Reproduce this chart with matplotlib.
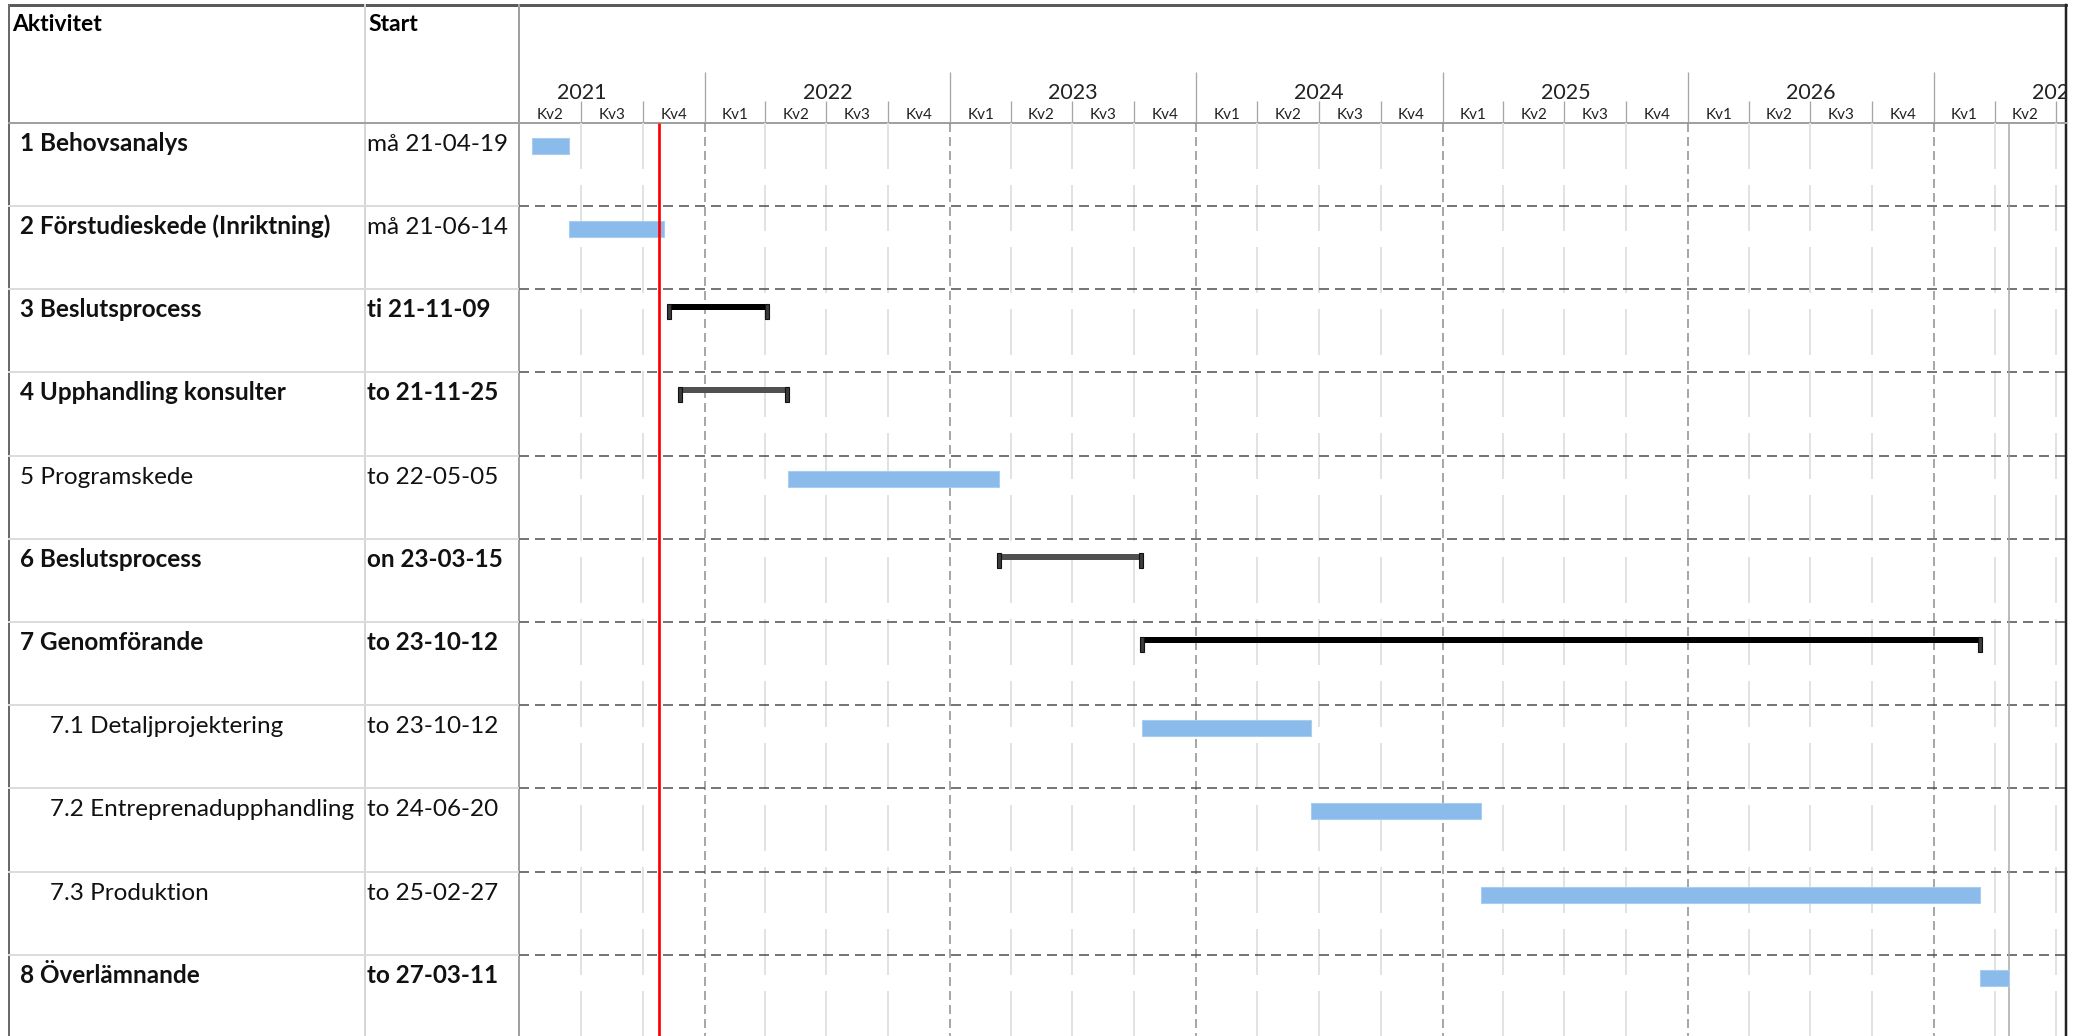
import datetime as dt
import matplotlib
matplotlib.use("Agg")
import matplotlib.pyplot as plt
import matplotlib.dates as mdates

plt.rcParams['font.family'] = ['Lato', 'DejaVu Sans']
plt.rcParams['lines.scale_dashes'] = False

# ---- data ----
names = ["1 Behovsanalys", "2 Förstudieskede (Inriktning)", "3 Beslutsprocess",
         "4 Upphandling konsulter", "5 Programskede", "6 Beslutsprocess",
         "7 Genomförande", "7.1 Detaljprojektering", "7.2 Entreprenadupphandling",
         "7.3 Produktion", "8 Överlämnande"]
start_labels = ["må 21-04-19", "må 21-06-14", "ti 21-11-09", "to 21-11-25", "to 22-05-05",
                "on 23-03-15", "to 23-10-12", "to 23-10-12", "to 24-06-20", "to 25-02-27",
                "to 27-03-11"]
name_bold = [1, 1, 1, 1, 0, 1, 1, 0, 0, 0, 1]
start_bold = [0, 0, 1, 1, 0, 1, 1, 0, 0, 0, 1]
indent = [0, 0, 0, 0, 0, 0, 0, 1, 1, 1, 0]
starts = ["2021-04-19", "2021-06-14", "2021-11-09", "2021-11-25", "2022-05-05", "2023-03-15",
          "2023-10-12", "2023-10-12", "2024-06-20", "2025-02-27", "2027-03-11"]
ends = ["2021-06-13", "2021-11-02", "2022-04-03", "2022-05-04", "2023-03-15", "2023-10-11",
        "2027-03-11", "2024-06-20", "2025-02-27", "2027-03-11", "2027-04-22"]
kinds = ["task", "task", "sum", "sum2", "task", "sum2", "sum", "task", "task", "task", "task"]
status_date = "2021-10-26"
finish_date = "2027-04-22"
view_start = "2021-04-01"
view_end = "2027-07-16"
years = [2021, 2022, 2023, 2024, 2025, 2026, 2027]


def d(s):
    return mdates.date2num(dt.datetime.strptime(s, "%Y-%m-%d"))


W, H = 2087, 1036
fig = plt.figure(figsize=(W / 100, H / 100), dpi=100)

X0, X1 = 519.4, 2066      # chart area in px
HB = 122.8                # header bottom
RH = 83.2                 # row height
px = 0.72                 # px -> pt

# background axes in pixel coords
bg = fig.add_axes([0, 0, 1, 1])
bg.set_xlim(0, W)
bg.set_ylim(H, 0)
bg.axis("off")

# gantt body axes
ax = fig.add_axes([X0 / W, 0, (X1 - X0) / W, (H - HB) / H])
ax.set_xlim(d(view_start), d(view_end))
ax.set_ylim(H, HB)
ax.axis("off")

# header axes (timescale)
axh = fig.add_axes([X0 / W, (H - HB) / H, (X1 - X0) / W, HB / H])
axh.set_xlim(d(view_start), d(view_end))
axh.set_ylim(HB, 0)
axh.axis("off")

# ---- timescale + gridlines ----
for y in years:
    for q in range(4):
        qs = d("%d-%02d-01" % (y, 1 + 3 * q))
        qe = d("%d-%02d-01" % (y + (q == 3), 1 if q == 3 else 4 + 3 * q))
        if qe <= d(view_start) or qs >= d(view_end):
            continue
        axh.text((qs + qe) / 2, 119, "Kv%d" % (q + 1), ha="center", va="baseline",
                 fontsize=11, color="#222222", clip_on=True)
        if qs <= d(view_start):
            continue
        if q == 0:
            ax.vlines(qs, HB, H, color="#8c8c8c", lw=1.5 * px,
                      linestyles=(0, (9 * px, 5 * px)), zorder=1)
        else:
            ax.vlines(qs, HB, H, color="#e2e2e2", lw=2 * px,
                      linestyles=(0, (46 * px, 16 * px)), zorder=1)
        axh.vlines(qs, 72 if q == 0 else 101, HB, color="#a6a6a6", lw=1.3 * px)
    mid = (d("%d-01-01" % y) + d("%d-01-01" % (y + 1))) / 2
    axh.text(mid, 99, str(y), ha="center", va="baseline", fontsize=15.5,
             color="#222222", clip_on=True)

for i in range(1, len(names) + 1):
    yy = HB + i * RH
    ax.hlines(yy, d(view_start), d(view_end), color="#4a4a4a", lw=1.5 * px,
              linestyles=(0, (10 * px, 6 * px)), zorder=1)

# status & finish lines
ax.vlines(d(status_date), HB, H, color="#ff0000", lw=2.7 * px, zorder=5)
ax.vlines(d(finish_date), HB, H, color="#a6a6a6", lw=1.5 * px, zorder=2)

# ---- bars ----
cap_w = 4 / 0.6733
for i, (s, e, k) in enumerate(zip(starts, ends, kinds)):
    top = HB + i * RH
    s0, e0 = d(s), d(e)
    if k == "task":
        ax.barh(top + 23, e0 - s0, left=s0, height=16, color="#8abbeb",
                edgecolor="#a9cdf1", lw=0.8, zorder=3)
    else:
        col = "#000000" if k == "sum" else "#505050"
        ax.barh(top + 18, e0 - s0, left=s0, height=6, color=col, lw=0, zorder=3)
        for c in (s0, e0):
            ax.barh(top + 22, cap_w, left=c - cap_w / 2, height=15, color="#3c3c3c",
                    edgecolor="#111111", lw=0.8, zorder=4)

# ---- table & borders ----
bg.plot([9, X1], [5, 5], color="#5a5a5a", lw=3 * px)
bg.plot([9, 9], [5, H], color="#6a6a6a", lw=2 * px)
bg.plot([X1, X1], [5, H], color="#222222", lw=2.5 * px)
bg.plot([365, 365], [5, H], color="#d6d6d6", lw=2 * px)
bg.plot([X0, X0], [5, H], color="#a0a0a0", lw=2 * px)
bg.plot([9, X1], [HB, HB], color="#a0a0a0", lw=2 * px)
for i in range(1, len(names) + 1):
    yy = HB + i * RH
    bg.plot([9, X0], [yy, yy], color="#dcdcdc", lw=2 * px)

bg.text(12, 31, "Aktivitet", fontsize=16.5, fontweight="bold", va="baseline")
bg.text(368, 31, "Start", fontsize=16.5, fontweight="bold", va="baseline")
for i in range(len(names)):
    base = HB + i * RH + 28
    bg.text(50 if indent[i] else 20, base, names[i], fontsize=17.5, va="baseline",
            fontweight="bold" if name_bold[i] else "normal", color="#111111")
    bg.text(367, base, start_labels[i], fontsize=17.5, va="baseline",
            fontweight="bold" if start_bold[i] else "normal", color="#111111")

fig.savefig("out.png", dpi=100)
